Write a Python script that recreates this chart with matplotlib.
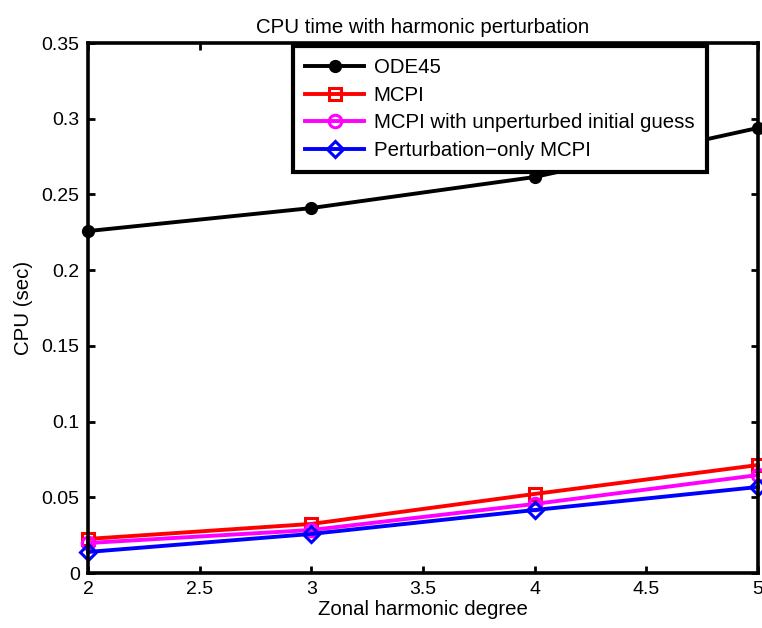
import matplotlib
matplotlib.use('Agg')
from matplotlib import pyplot as plt

degree = [2, 3, 4, 5]
ode45 = [0.2258, 0.2410, 0.2615, 0.2939]
mcpi = [0.0225, 0.0324, 0.0522, 0.0713]
mcpi_unpert = [0.0198, 0.0284, 0.0456, 0.0647]
pert_only = [0.0139, 0.0258, 0.0416, 0.0568]

labels = ['ODE45', 'MCPI', 'MCPI with unperturbed initial guess',
          'Perturbation\u2212only MCPI']


def main():
    plt.rcParams['font.family'] = ['Liberation Sans', 'DejaVu Sans']
    fig = plt.figure(figsize=(7.62, 6.28), dpi=100)
    ax = fig.add_axes([88 / 762, 55 / 628, 670 / 762, 530 / 628])

    lw = 2.8
    ax.plot(degree, ode45, c='black', lw=lw, marker='o', ms=8,
            mfc='black', mew=1.5, label=labels[0], clip_on=False)
    ax.plot(degree, mcpi, c='red', lw=lw, marker='s', ms=8,
            mfc='none', mew=2.2, label=labels[1], clip_on=False)
    ax.plot(degree, mcpi_unpert, c='magenta', lw=lw, marker='o', ms=9,
            mfc='none', mew=2.2, label=labels[2], clip_on=False)
    ax.plot(degree, pert_only, c='blue', lw=lw, marker='D', ms=8,
            mfc='none', mew=2.2, label=labels[3], clip_on=False)

    ax.set_xlim(2, 5)
    ax.set_ylim(0, 0.35)
    ax.set_xticks([2, 2.5, 3, 3.5, 4, 4.5, 5])
    ax.set_xticklabels(['2', '2.5', '3', '3.5', '4', '4.5', '5'])
    ax.set_yticks([0, 0.05, 0.1, 0.15, 0.2, 0.25, 0.3, 0.35])
    ax.set_yticklabels(['0', '0.05', '0.1', '0.15', '0.2', '0.25', '0.3', '0.35'])
    ax.tick_params(direction='in', top=True, right=True, length=5, width=2,
                   labelsize=14, pad=6)
    for s in ax.spines.values():
        s.set_linewidth(2.6)

    ax.set_title('CPU time with harmonic perturbation', fontsize=14.7, pad=7)
    ax.set_xlabel('Zonal harmonic degree', fontsize=14.7, labelpad=1)
    ax.set_ylabel('CPU (sec)', fontsize=14.7, labelpad=6)

    leg = ax.legend(loc='upper left', bbox_to_anchor=(293 / 762, 1 - 46 / 628),
                    bbox_transform=fig.transFigure, fontsize=14.7,
                    fancybox=False, framealpha=1, edgecolor='black',
                    borderpad=0.6, labelspacing=0.42, handlelength=2.9,
                    handletextpad=0.45, borderaxespad=0)
    leg.get_frame().set_linewidth(3)

    fig.savefig('out.png', dpi=100)


if __name__ == "__main__":
    main()
